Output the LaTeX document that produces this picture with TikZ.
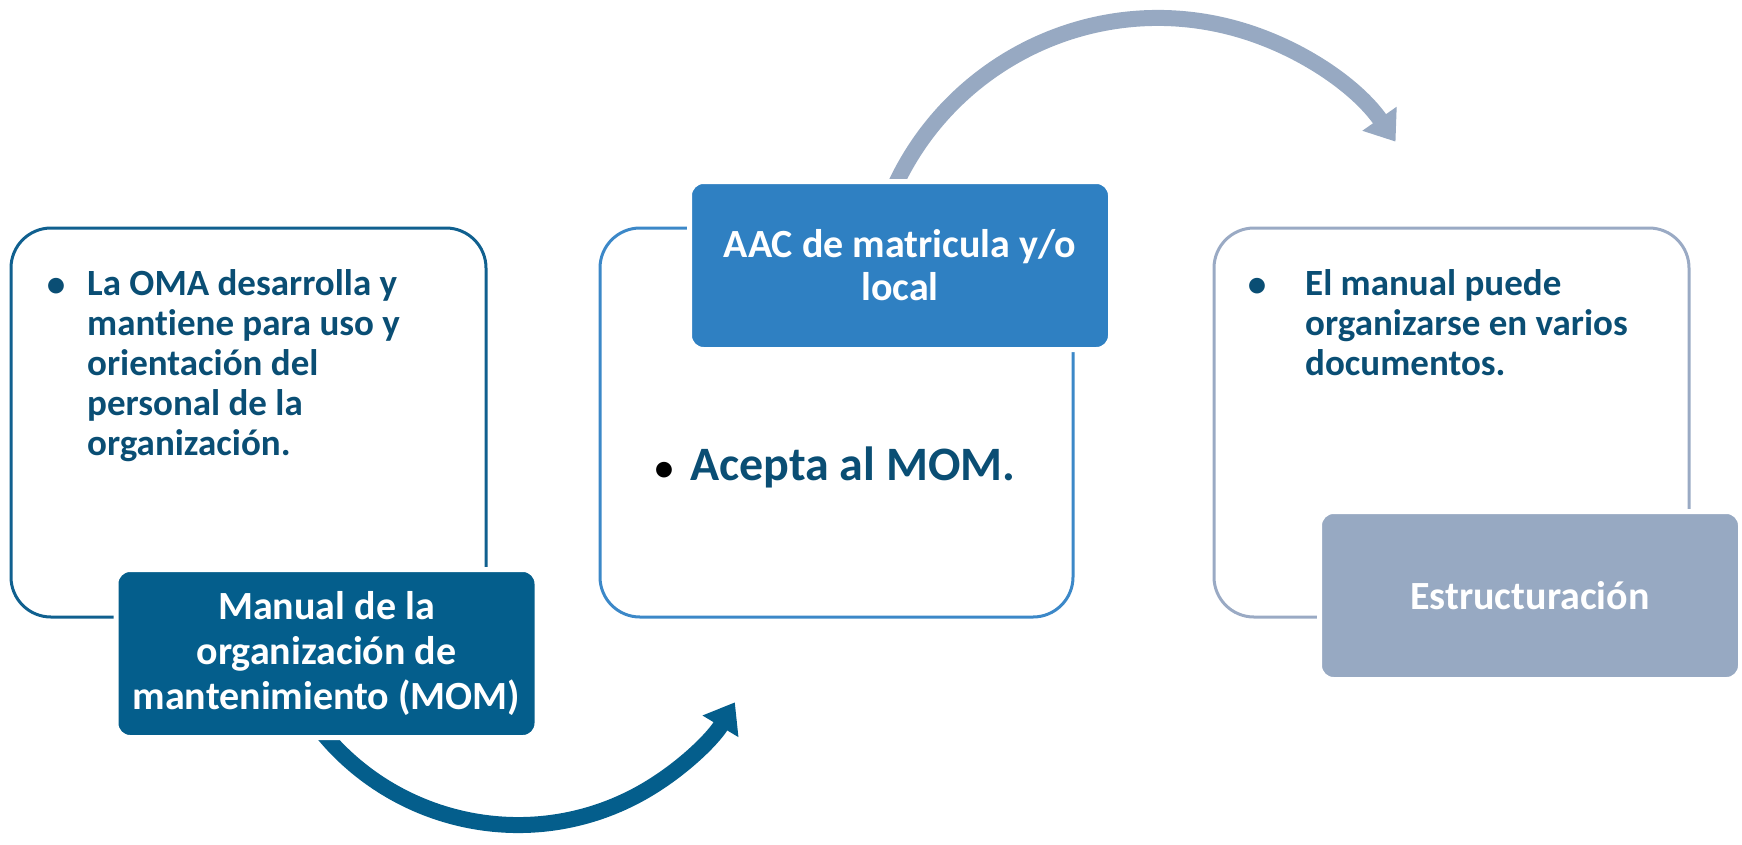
\documentclass[tikz,border=0pt]{standalone}
\usepackage{fontspec}
\setmainfont{Carlito}[Ligatures={NoCommon}]
\usetikzlibrary{arrows.meta}
\definecolor{navy}{RGB}{10,78,116}
\definecolor{momfill}{RGB}{4,94,140}
\definecolor{momline}{RGB}{16,96,143}
\definecolor{aacfill}{RGB}{47,128,194}
\definecolor{aacline}{RGB}{60,136,200}
\definecolor{grayfill}{RGB}{151,169,194}
\definecolor{grayline}{RGB}{154,170,196}
\begin{document}
\begin{tikzpicture}[x=1pt,y=-1pt,
  outlinebox/.style={draw, line width=3pt, rounded corners=40pt, inner sep=0pt, minimum height=389pt},
  fillbox/.style={draw=white, line width=5pt, rounded corners=14pt, inner sep=0pt, text=white,
    minimum width=421pt, minimum height=168pt, align=center},
  bodytext/.style={inner sep=0pt, text=navy, font=\bfseries\fontsize{37}{40}\selectfont, align=left, anchor=north west},
  bulletmark/.style={inner sep=0pt, font=\bfseries\fontsize{37}{40}\selectfont, anchor=base},
  bigarrow/.style={line width=16pt, -{Triangle[width=40pt,length=28pt]}}
]
\useasboundingbox (0,0) rectangle (1742,844);

% arrows (behind boxes)
\begin{scope}
  \clip (0,739) rectangle (640,844) (640,0) rectangle (1742,844);
  \draw[bigarrow, momfill] (518,572) ++(150:253) arc[start angle=150, end angle=31, radius=253];
\end{scope}
\begin{scope}
  \clip (0,0) rectangle (1000,179) (1000,0) rectangle (1742,844);
  \draw[bigarrow, grayfill] (1158,308) ++(-165:290) arc[start angle=-165, end angle=-35, radius=290];
\end{scope}

% outline boxes
\node[outlinebox, draw=momline, minimum width=475pt] (leftbox) at (248.5,422.5) {};
\node[outlinebox, draw=aacline, minimum width=473pt] (midbox) at (836.5,422.5) {};
\node[outlinebox, draw=grayline, minimum width=475pt] (rightbox) at (1451.5,422.5) {};

% filled title boxes
\node[fillbox, fill=momfill, font=\bfseries\fontsize{40}{45}\selectfont] (mom) at (326.5,653.5)
  {Manual de la\\organización de\\mantenimiento (MOM)};
\node[fillbox, fill=aacfill, font=\bfseries\fontsize{40}{43}\selectfont] (aac) at (900,265.5)
  {AAC de matricula y/o\\local};
\node[fillbox, fill=grayfill, font=\bfseries\fontsize{40}{44}\selectfont] (estr) at (1530,595.5)
  {Estructuración};

% body texts
\node[bulletmark, text=navy] (b1) at (56,296) {•};
\node[bodytext] (t1) at (87,269)
  {La OMA desarrolla y\\mantiene para uso y\\orientación del\\personal de la\\organización.};

\node[bulletmark, text=black] (b2) at (664,480) {•};
\node[inner sep=0pt, text=navy, font=\bfseries\fontsize{48}{52}\selectfont, anchor=base west] (t2) at (690,480)
  {Acepta al MOM.};

\node[bulletmark, text=navy] (b3) at (1257,296) {•};
\node[bodytext] (t3) at (1305,269)
  {El manual puede\\organizarse en varios\\documentos.};
\end{tikzpicture}
\end{document}
